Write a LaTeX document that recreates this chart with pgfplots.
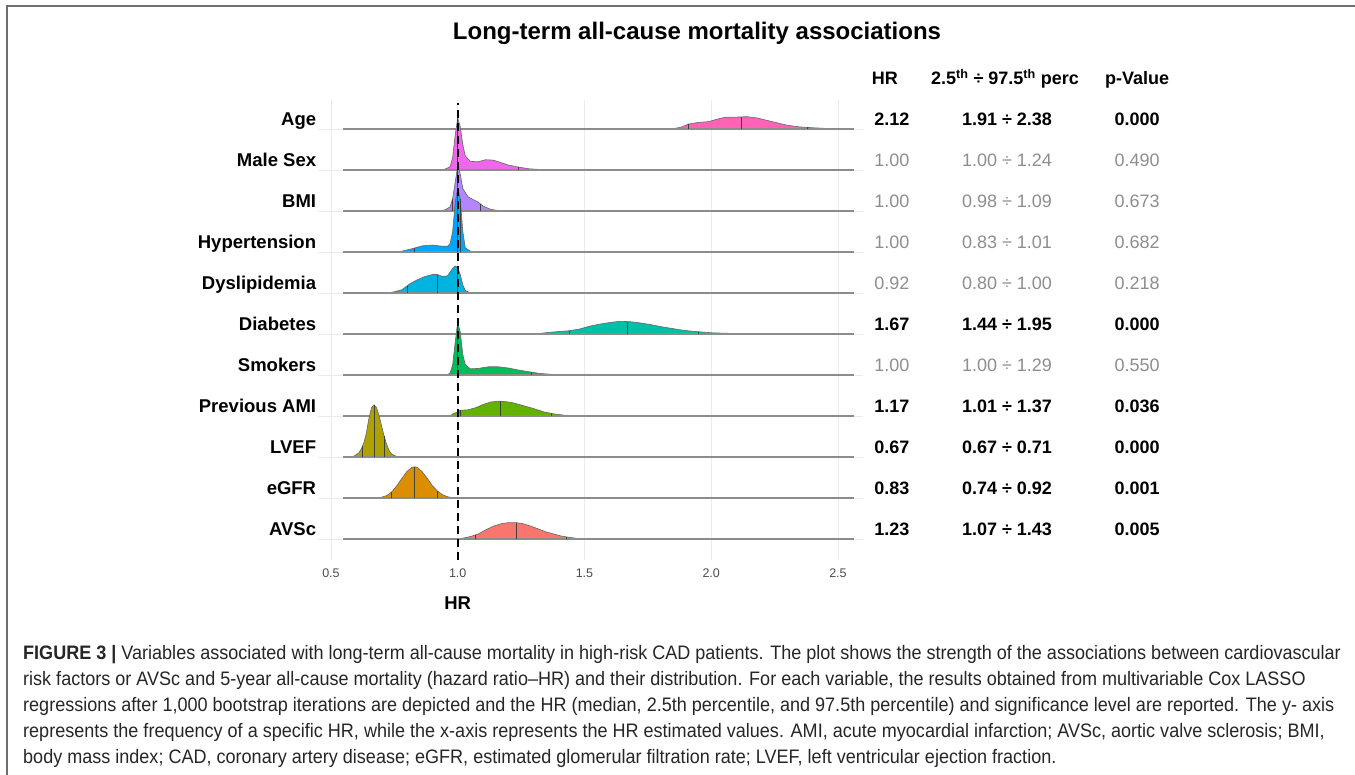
\documentclass[border=0pt]{standalone}
\usepackage{fontspec}
\setmainfont{Liberation Sans}
\newfontfamily\capfont[FakeStretch=0.925, Ligatures=TeX]{Liberation Sans}
\usepackage{pgfplots}
\pgfplotsset{compat=1.18}

% ggplot hue palette, one colour per variable
\definecolor{cAge}{HTML}{FF63B6}
\definecolor{cMale}{HTML}{EF67EB}
\definecolor{cBMI}{HTML}{B385FF}
\definecolor{cHyp}{HTML}{00A6FF}
\definecolor{cDys}{HTML}{00B4E0}
\definecolor{cDia}{HTML}{00C1A7}
\definecolor{cSmk}{HTML}{00BD5C}
\definecolor{cAMI}{HTML}{64B200}
\definecolor{cLVEF}{HTML}{AEA200}
\definecolor{cGFR}{HTML}{DB8E00}
\definecolor{cAVS}{HTML}{F8766D}
\definecolor{nsgray}{HTML}{8E8E8E}
\definecolor{gridgray}{HTML}{EBEBEB}
\definecolor{framegray}{HTML}{6E6E6E}

\pgfplotsset{
  ridge/.style={fill=#1, draw=black!60, line width=0.6pt},
  base/.style={black!45, line width=1.3pt},
  qline/.style={black!75, line width=0.7pt},
}
\newcommand\valfont{\fontsize{18}{20}\selectfont}
% row, style, HR, percentile range, p-value
\newcommand\trow[5]{%
  \node[#2, anchor=base, yshift=3.5pt] at (axis cs:2.713,#1) {#3};
  \node[#2, anchor=base, yshift=3.5pt] at (axis cs:3.167,#1) {#4};
  \node[#2, anchor=base, yshift=3.5pt] at (axis cs:3.680,#1) {#5};
}

\begin{document}
\begin{tikzpicture}
\useasboundingbox (0,0) rectangle (1355pt,775pt);
\fill[white] (0,0) rectangle (1355pt,775pt);
\draw[framegray, line width=2pt] (7pt,0) -- (7pt,769pt) -- (1355pt,769pt);

\node[font=\fontsize{24}{28}\selectfont\bfseries, anchor=base] at (697pt,735pt)
  {Long-term all-cause mortality associations};

\begin{axis}[
  at={(318.3pt,215pt)}, anchor=south west,
  scale only axis, width=545pt, height=460pt,
  xmin=0.45, xmax=2.6, ymin=0.488, ymax=11.707,
  clip=false,
  axis line style={draw=none},
  major tick length=0pt,
  xtick={0.5,1.0,1.5,2.0,2.5},
  xticklabels={0.5,1.0,1.5,2.0,2.5},
  xticklabel style={font=\fontsize{12.5}{14}\selectfont, text=black!70,
    anchor=base, yshift=-18pt, inner sep=0pt},
  ytick={1,...,11},
  yticklabels={AVSc,eGFR,LVEF,Previous AMI,Smokers,Diabetes,Dyslipidemia,
    Hypertension,BMI,Male Sex,Age},
  yticklabel style={font=\fontsize{18.5}{20}\selectfont\bfseries,
    anchor=base east, yshift=3.5pt, inner xsep=2pt},
  xmajorgrids, ymajorgrids,
  grid style={gridgray, line width=0.9pt},
]
% Age
\addplot[ridge=cAge] table[row sep=\\, y expr=\thisrow{d}+11] {
x d\\ 1.80 0\\ 1.85 0.01\\ 1.88 0.04\\ 1.91 0.12\\ 1.95 0.16\\ 1.99 0.18\\
2.03 0.25\\ 2.06 0.29\\ 2.10 0.29\\ 2.14 0.30\\ 2.18 0.27\\ 2.22 0.21\\
2.26 0.15\\ 2.30 0.09\\ 2.35 0.05\\ 2.40 0.03\\ 2.45 0.015\\ 2.50 0.01\\ 2.55 0\\};
\addplot[base] coordinates {(0.547,11) (2.563,11)};
\addplot[qline] coordinates {(1.91,11) (1.91,11.12)};
\addplot[qline] coordinates {(2.12,11) (2.12,11.295)};
\addplot[qline] coordinates {(2.38,11) (2.38,11.04)};
% Male Sex
\addplot[ridge=cMale] table[row sep=\\, y expr=\thisrow{d}+10] {
x d\\ 0.92 0\\ 0.95 0.02\\ 0.97 0.08\\ 0.98 0.3\\ 0.99 0.85\\ 1.00 1.27\\
1.01 1.05\\ 1.02 0.62\\ 1.03 0.34\\ 1.05 0.21\\ 1.08 0.2\\ 1.11 0.25\\ 1.14 0.24\\
1.17 0.18\\ 1.20 0.12\\ 1.24 0.07\\ 1.28 0.03\\ 1.33 0.01\\ 1.38 0\\};
\addplot[base] coordinates {(0.547,10) (2.563,10)};
\addplot[qline] coordinates {(1.00,10) (1.00,11.27)};
\addplot[qline] coordinates {(1.24,10) (1.24,10.07)};
% BMI
\addplot[ridge=cBMI] table[row sep=\\, y expr=\thisrow{d}+9] {
x d\\ 0.93 0\\ 0.95 0.03\\ 0.97 0.1\\ 0.98 0.3\\ 0.99 0.7\\ 1.00 1.1\\
1.01 0.9\\ 1.02 0.55\\ 1.04 0.35\\ 1.06 0.28\\ 1.08 0.22\\ 1.10 0.12\\
1.13 0.04\\ 1.16 0.01\\ 1.20 0\\};
\addplot[base] coordinates {(0.547,9) (2.563,9)};
\addplot[qline] coordinates {(0.98,9) (0.98,9.3)};
\addplot[qline] coordinates {(1.00,9) (1.00,10.1)};
\addplot[qline] coordinates {(1.09,9) (1.09,9.17)};
% Hypertension
\addplot[ridge=cHyp] table[row sep=\\, y expr=\thisrow{d}+8] {
x d\\ 0.75 0\\ 0.78 0.02\\ 0.82 0.08\\ 0.86 0.15\\ 0.90 0.17\\ 0.94 0.14\\
0.96 0.14\\ 0.97 0.2\\ 0.98 0.5\\ 0.99 1.2\\ 1.00 1.56\\ 1.01 1.3\\ 1.02 0.5\\
1.03 0.1\\ 1.05 0.02\\ 1.08 0\\};
\addplot[base] coordinates {(0.547,8) (2.563,8)};
\addplot[qline] coordinates {(0.83,8) (0.83,8.1)};
\addplot[qline] coordinates {(1.00,8) (1.00,9.56)};
\addplot[qline] coordinates {(1.01,8) (1.01,9.3)};
% Dyslipidemia
\addplot[ridge=cDys] table[row sep=\\, y expr=\thisrow{d}+7] {
x d\\ 0.72 0\\ 0.75 0.03\\ 0.78 0.08\\ 0.81 0.22\\ 0.84 0.32\\ 0.87 0.40\\
0.90 0.45\\ 0.92 0.45\\ 0.94 0.40\\ 0.96 0.42\\ 0.98 0.6\\ 0.99 0.66\\
1.00 0.62\\ 1.01 0.45\\ 1.02 0.2\\ 1.03 0.06\\ 1.05 0\\};
\addplot[base] coordinates {(0.547,7) (2.563,7)};
\addplot[qline] coordinates {(0.80,7) (0.80,7.17)};
\addplot[qline] coordinates {(0.92,7) (0.92,7.45)};
\addplot[qline] coordinates {(1.00,7) (1.00,7.62)};
% Diabetes
\addplot[ridge=cDia] table[row sep=\\, y expr=\thisrow{d}+6] {
x d\\ 1.28 0\\ 1.32 0.01\\ 1.36 0.04\\ 1.40 0.06\\ 1.44 0.08\\ 1.48 0.12\\
1.52 0.19\\ 1.56 0.24\\ 1.60 0.28\\ 1.64 0.31\\ 1.68 0.30\\ 1.72 0.27\\
1.76 0.23\\ 1.80 0.18\\ 1.84 0.14\\ 1.88 0.10\\ 1.92 0.07\\ 1.96 0.05\\
2.00 0.03\\ 2.05 0.02\\ 2.10 0.01\\ 2.15 0\\};
\addplot[base] coordinates {(0.547,6) (2.563,6)};
\addplot[qline] coordinates {(1.44,6) (1.44,6.08)};
\addplot[qline] coordinates {(1.67,6) (1.67,6.30)};
\addplot[qline] coordinates {(1.95,6) (1.95,6.055)};
% Smokers
\addplot[ridge=cSmk] table[row sep=\\, y expr=\thisrow{d}+5] {
x d\\ 0.93 0\\ 0.96 0.01\\ 0.97 0.05\\ 0.98 0.25\\ 0.99 0.8\\ 1.00 1.29\\
1.01 1.05\\ 1.02 0.5\\ 1.03 0.25\\ 1.05 0.15\\ 1.08 0.16\\ 1.12 0.2\\
1.16 0.2\\ 1.20 0.17\\ 1.24 0.12\\ 1.28 0.08\\ 1.32 0.04\\ 1.36 0.02\\ 1.42 0\\};
\addplot[base] coordinates {(0.547,5) (2.563,5)};
\addplot[qline] coordinates {(1.00,5) (1.00,6.29)};
\addplot[qline] coordinates {(1.29,5) (1.29,5.07)};
% Previous AMI
\addplot[ridge=cAMI] table[row sep=\\, y expr=\thisrow{d}+4] {
x d\\ 0.97 0\\ 0.98 0.05\\ 1.00 0.1\\ 1.01 0.14\\ 1.04 0.15\\ 1.07 0.20\\
1.10 0.28\\ 1.13 0.34\\ 1.16 0.36\\ 1.19 0.35\\ 1.22 0.32\\ 1.26 0.25\\
1.30 0.18\\ 1.34 0.10\\ 1.38 0.05\\ 1.42 0.02\\ 1.48 0\\};
\addplot[base] coordinates {(0.547,4) (2.563,4)};
\addplot[qline] coordinates {(1.01,4) (1.01,4.14)};
\addplot[qline] coordinates {(1.17,4) (1.17,4.357)};
\addplot[qline] coordinates {(1.37,4) (1.37,4.0625)};
% LVEF
\addplot[ridge=cLVEF] table[row sep=\\, y expr=\thisrow{d}+3] {
x d\\ 0.57 0\\ 0.59 0.02\\ 0.61 0.1\\ 0.62 0.2\\ 0.63 0.35\\ 0.64 0.6\\
0.65 0.95\\ 0.66 1.2\\ 0.67 1.27\\ 0.68 1.2\\ 0.69 1.0\\ 0.70 0.75\\
0.71 0.5\\ 0.72 0.3\\ 0.73 0.15\\ 0.74 0.07\\ 0.76 0.01\\ 0.78 0\\};
\addplot[base] coordinates {(0.547,3) (2.563,3)};
\addplot[qline] coordinates {(0.625,3) (0.625,3.275)};
\addplot[qline] coordinates {(0.67,3) (0.67,4.27)};
\addplot[qline] coordinates {(0.71,3) (0.71,3.5)};
% eGFR
\addplot[ridge=cGFR] table[row sep=\\, y expr=\thisrow{d}+2] {
x d\\ 0.68 0\\ 0.70 0.02\\ 0.72 0.06\\ 0.74 0.15\\ 0.76 0.3\\ 0.78 0.48\\
0.80 0.65\\ 0.82 0.75\\ 0.83 0.76\\ 0.84 0.75\\ 0.86 0.64\\ 0.88 0.48\\
0.90 0.3\\ 0.92 0.17\\ 0.94 0.08\\ 0.96 0.03\\ 0.98 0.01\\ 1.00 0\\};
\addplot[base] coordinates {(0.547,2) (2.563,2)};
\addplot[qline] coordinates {(0.74,2) (0.74,2.15)};
\addplot[qline] coordinates {(0.83,2) (0.83,2.76)};
\addplot[qline] coordinates {(0.92,2) (0.92,2.17)};
% AVSc
\addplot[ridge=cAVS] table[row sep=\\, y expr=\thisrow{d}+1] {
x d\\ 1.00 0\\ 1.02 0.02\\ 1.05 0.06\\ 1.08 0.12\\ 1.11 0.22\\ 1.14 0.31\\
1.17 0.37\\ 1.20 0.40\\ 1.23 0.40\\ 1.26 0.37\\ 1.29 0.31\\ 1.32 0.24\\
1.35 0.17\\ 1.38 0.12\\ 1.41 0.07\\ 1.44 0.04\\ 1.47 0.015\\ 1.52 0\\};
\addplot[base] coordinates {(0.547,1) (2.563,1)};
\addplot[qline] coordinates {(1.07,1) (1.07,1.10)};
\addplot[qline] coordinates {(1.23,1) (1.23,1.40)};
\addplot[qline] coordinates {(1.43,1) (1.43,1.05)};

% reference line HR = 1
\addplot[black, line width=2pt, dash pattern=on 8pt off 5pt]
  coordinates {(1,0.488) (1,11.634)};

\node[font=\fontsize{18.5}{20}\selectfont\bfseries, anchor=base, yshift=-50pt]
  at (axis cs:1,0.488) {HR};

% table on the right
\node[font=\valfont\bfseries, anchor=base] at (axis cs:2.685,12.085) {HR};
\node[font=\valfont\bfseries, anchor=base] at (axis cs:3.159,12.085)
  {2.5\textsuperscript{th} ÷ 97.5\textsuperscript{th} perc};
\node[font=\valfont\bfseries, anchor=base] at (axis cs:3.680,12.085) {p-Value};
\trow{11}{font=\valfont\bfseries}{2.12}{1.91 ÷ 2.38}{0.000}
\trow{10}{font=\valfont, text=nsgray}{1.00}{1.00 ÷ 1.24}{0.490}
\trow{9}{font=\valfont, text=nsgray}{1.00}{0.98 ÷ 1.09}{0.673}
\trow{8}{font=\valfont, text=nsgray}{1.00}{0.83 ÷ 1.01}{0.682}
\trow{7}{font=\valfont, text=nsgray}{0.92}{0.80 ÷ 1.00}{0.218}
\trow{6}{font=\valfont\bfseries}{1.67}{1.44 ÷ 1.95}{0.000}
\trow{5}{font=\valfont, text=nsgray}{1.00}{1.00 ÷ 1.29}{0.550}
\trow{4}{font=\valfont\bfseries}{1.17}{1.01 ÷ 1.37}{0.036}
\trow{3}{font=\valfont\bfseries}{0.67}{0.67 ÷ 0.71}{0.000}
\trow{2}{font=\valfont\bfseries}{0.83}{0.74 ÷ 0.92}{0.001}
\trow{1}{font=\valfont\bfseries}{1.23}{1.07 ÷ 1.43}{0.005}
\end{axis}

% caption
\begin{scope}[every node/.style={anchor=base west, inner sep=0pt,
    font=\capfont\fontsize{19.5}{22}\selectfont, text=black!85}]
\node at (23pt,115.5pt) {{\bfseries FIGURE 3 |} Variables associated with long-term all-cause mortality in high-risk CAD patients. The plot shows the strength of the associations between cardiovascular};
\node at (23pt,89.5pt) {risk factors or AVSc and 5-year all-cause mortality (hazard ratio–HR) and their distribution. For each variable, the results obtained from multivariable Cox LASSO};
\node at (23pt,63.5pt) {regressions after 1,000 bootstrap iterations are depicted and the HR (median, 2.5th percentile, and 97.5th percentile) and significance level are reported. The y- axis};
\node at (23pt,37.5pt) {represents the frequency of a specific HR, while the x-axis represents the HR estimated values. AMI, acute myocardial infarction; AVSc, aortic valve sclerosis; BMI,};
\node at (23pt,11.5pt) {body mass index; CAD, coronary artery disease; eGFR, estimated glomerular filtration rate; LVEF, left ventricular ejection fraction.};
\end{scope}
\end{tikzpicture}
\end{document}
